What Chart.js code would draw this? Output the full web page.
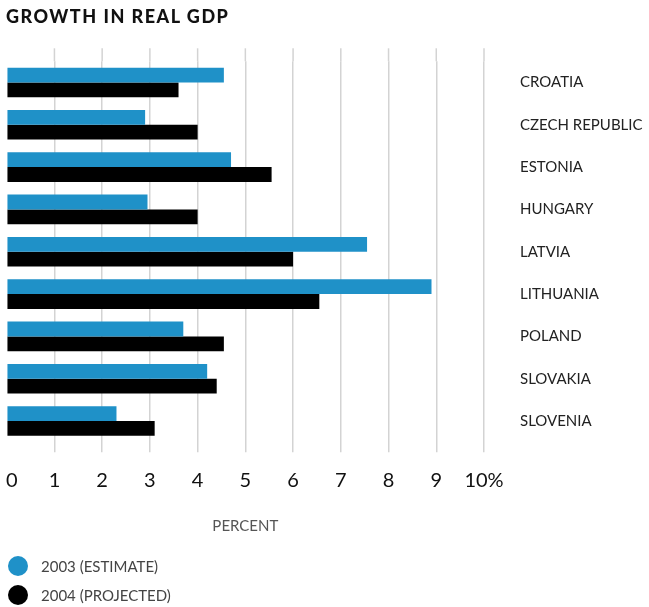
<!DOCTYPE html>
<html>
<head>
<meta charset="utf-8">
<title>Growth in real GDP</title>
<script src="https://cdn.jsdelivr.net/npm/chart.js@4"></script>
<style>
  body { margin: 0; background: #fff; }
  #wrap { position: relative; width: 649px; height: 607px; font-family: Lato, "Open Sans", sans-serif; }
  #wrap canvas { position: absolute; left: 0; top: 0; }
  h1 { position: absolute; left: 6px; top: 5px; margin: 0; font-size: 18px; font-weight: 900; letter-spacing: 1.5px; color: #111; }
  .legend { position: absolute; left: 8px; font-size: 15px; color: #444; display: flex; align-items: center; }
  .legend span.dot { width: 20px; height: 20px; border-radius: 50%; margin-right: 13px; }
</style>
</head>
<body>
<div id="wrap">
  <canvas id="gdpChart" width="649" height="607"></canvas>
  <h1>GROWTH IN REAL GDP</h1>
  <div class="legend" style="top:556px"><span class="dot" style="background:#1f91c8"></span>2003 (ESTIMATE)</div>
  <div class="legend" style="top:585px"><span class="dot" style="background:#000"></span>2004 (PROJECTED)</div>
</div>
<script>
const countries = ['CROATIA', 'CZECH REPUBLIC', 'ESTONIA', 'HUNGARY', 'LATVIA', 'LITHUANIA', 'POLAND', 'SLOVAKIA', 'SLOVENIA'];
const estimate2003 = [4.55, 2.9, 4.7, 2.95, 7.55, 8.9, 3.7, 4.2, 2.3];
const projected2004 = [3.6, 4.0, 5.55, 4.0, 6.0, 6.55, 4.55, 4.4, 3.1];
// en space in front of the zero keeps it inside the canvas
const percentTicks = ['\u20020', '1', '2', '3', '4', '5', '6', '7', '8', '9', '10%'];

const GRID = '#d3d3d3';

// gridlines poke a little above the first bar pair
const gridTop = {
  id: 'gridTop',
  beforeDatasetsDraw(chart) {
    const ctx = chart.ctx, x = chart.scales.x, top = chart.chartArea.top;
    ctx.save();
    ctx.strokeStyle = GRID;
    ctx.lineWidth = 1.5;
    x.ticks.forEach(t => {
      if (t.value === 0) return;
      const px = x.getPixelForValue(t.value);
      ctx.beginPath();
      ctx.moveTo(px, top - 13);
      ctx.lineTo(px, top);
      ctx.stroke();
    });
    ctx.restore();
  }
};

new Chart(document.getElementById('gdpChart'), {
  type: 'bar',
  data: {
    labels: countries,
    datasets: [
      { label: '2003 (ESTIMATE)', data: estimate2003, backgroundColor: '#1f91c8' },
      { label: '2004 (PROJECTED)', data: projected2004, backgroundColor: '#000000' }
    ]
  },
  options: {
    indexAxis: 'y',
    responsive: false,
    animation: false,
    devicePixelRatio: 1,
    categoryPercentage: 0.7,
    barPercentage: 1.0,
    layout: { padding: { top: 61.3, left: 6.7, right: 0, bottom: 67 } },
    plugins: { legend: { display: false }, tooltip: { enabled: false } },
    scales: {
      x: {
        min: 0,
        max: 10,
        position: 'bottom',
        border: { display: false },
        grid: {
          color: c => c.tick && c.tick.value === 0 ? 'rgba(0,0,0,0)' : GRID,
          lineWidth: 1.5,
          tickLength: 10,
          drawTicks: true
        },
        ticks: {
          stepSize: 1,
          padding: 16,
          color: '#111',
          font: { family: 'Lato', size: 20 },
          maxRotation: 0,
          callback: (v) => percentTicks[v]
        },
        title: {
          display: true,
          text: 'PERCENT',
          color: '#555',
          padding: { top: 5, bottom: 5 },
          font: { family: 'Lato', size: 15 }
        },
        afterFit: s => {
          s.height = 97.8;
          // let the end labels hang outside the plot
          s.paddingLeft = 0;
          s.paddingRight = 0;
        }
      },
      y: {
        position: 'right',
        border: { display: false },
        grid: { display: false },
        ticks: {
          padding: 28,
          color: '#222',
          font: { family: 'Lato', size: 15 }
        },
        afterFit: s => { s.width = 165; }
      }
    }
  },
  plugins: [gridTop]
});
</script>
</body>
</html>
